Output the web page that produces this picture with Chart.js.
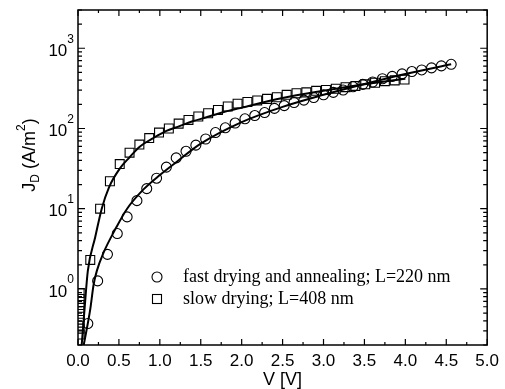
<!DOCTYPE html>
<html>
<head>
<meta charset="utf-8">
<script src="https://cdn.jsdelivr.net/npm/chart.js@4.4.1/dist/chart.umd.min.js"></script>
<style>
  html, body { margin: 0; padding: 0; background: #fff; }
  canvas { display: block; }
</style>
</head>
<body>
<canvas id="grafica" width="505" height="389"></canvas>
<script>
// fast drying and annealing; L=220 nm  (circles)
const fastV = [0.12, 0.24, 0.36, 0.48, 0.60, 0.72, 0.84, 0.96, 1.08, 1.20, 1.32, 1.44, 1.56, 1.68, 1.80, 1.92, 2.04, 2.16, 2.28, 2.40,
  2.52, 2.64, 2.76, 2.88, 3.00, 3.12, 3.24, 3.36, 3.48, 3.60, 3.72, 3.84, 3.96, 4.08, 4.20, 4.32, 4.44, 4.56];
const fastJ = [0.37, 1.26, 2.7, 4.9, 7.9, 12.6, 17.8, 24, 33, 43, 52, 62, 74, 89, 102, 117, 132, 145, 158, 178,
  193, 211, 226, 243, 263, 282, 302, 331, 355, 380, 417, 447, 479, 513, 537, 569, 603, 631];

// slow drying; L=408 nm  (squares)
const slowV = [0.02, 0.02, 0.02, 0.02, 0.02, 0.02, 0.02, 0.02,
  0.15, 0.27, 0.39, 0.51, 0.63, 0.75, 0.87, 0.99, 1.11, 1.23, 1.35, 1.47, 1.59, 1.71, 1.83, 1.95, 2.07, 2.19, 2.31, 2.43,
  2.55, 2.67, 2.79, 2.91, 3.03, 3.15, 3.27, 3.39, 3.51, 3.63, 3.75, 3.87, 3.99];
const slowJ = [0.27, 0.32, 0.38, 0.45, 0.53, 0.63, 0.75, 0.89,
  2.3, 10, 22, 36, 50, 63, 76, 89, 100, 115, 128, 141, 155, 170, 188, 204, 214, 224, 234, 245,
  263, 275, 282, 295, 302, 313, 327, 339, 355, 372, 389, 398, 407];

// fitted curves (solid lines)
const fastFitV = [0.07, 0.15, 0.19, 0.23, 0.31, 0.47, 0.6, 0.8, 1.0, 1.2, 1.5, 2.0, 2.5, 3.0, 3.5, 4.0, 4.56];
const fastFitJ = [0.2, 0.56, 1.12, 1.68, 2.8, 5.9, 10, 17.4, 26.3, 38, 64.6, 120, 186, 263, 359, 479, 631];
const slowFitV = [0.045, 0.08, 0.12, 0.21, 0.29, 0.38, 0.51, 0.63, 0.75, 0.92, 1.08, 1.24, 1.40, 1.57, 1.73, 2.0, 2.5, 3.0, 3.5, 4.0];
const slowFitJ = [0.2, 0.56, 1.68, 4.4, 10, 18.6, 31.6, 43.7, 58.9, 75.9, 93.3, 107, 123, 138, 155, 182, 240, 295, 355, 417];

// axis labels
const xTicks = [0, 0.5, 1.0, 1.5, 2.0, 2.5, 3.0, 3.5, 4.0, 4.5, 5.0];
const yDecades = [0, 1, 2, 3];
const legendLabels = ['fast drying and annealing; L=220 nm', 'slow drying; L=408 nm'];

const sans = '"Liberation Sans", Arial, sans-serif';
const serif = '"Liberation Serif", "Times New Roman", serif';

function puntos(xs, ys) {
    let arr = [];
    for (let i = 0; i < xs.length; i++) {
        arr.push({ x: xs[i], y: ys[i] });
    }
    return arr;
}

// marco, marcas hacia dentro, etiquetas y leyenda
const decoracion = {
    id: 'decoracion',
    afterDraw(chart) {
        const { ctx, chartArea: a, scales: { x, y } } = chart;
        ctx.save();
        ctx.strokeStyle = '#000';
        ctx.fillStyle = '#000';

        // marco
        ctx.lineWidth = 1.5;
        ctx.strokeRect(a.left, a.top, a.right - a.left, a.bottom - a.top);

        // marcas eje x
        ctx.lineWidth = 1.2;
        for (let i = 0; i <= 20; i++) {
            const v = i * 0.25;
            const px = x.getPixelForValue(v);
            const len = i % 2 === 0 ? 6 : 3;
            ctx.beginPath();
            ctx.moveTo(px, a.bottom); ctx.lineTo(px, a.bottom - len);
            ctx.moveTo(px, a.top); ctx.lineTo(px, a.top + len);
            ctx.stroke();
        }

        // marcas eje y (log)
        for (let d = -1; d <= 3; d++) {
            for (let m = 1; m <= 9; m++) {
                const v = m * Math.pow(10, d);
                if (v < y.min - 1e-9 || v > y.max + 1e-9) continue;
                const py = y.getPixelForValue(v);
                const len = m === 1 ? 7 : 4;
                ctx.beginPath();
                ctx.moveTo(a.left, py); ctx.lineTo(a.left + len, py);
                ctx.moveTo(a.right, py); ctx.lineTo(a.right - len, py);
                ctx.stroke();
            }
        }

        // etiquetas eje y: 10^n
        ctx.textBaseline = 'middle';
        yDecades.forEach(d => {
            const py = y.getPixelForValue(Math.pow(10, d));
            ctx.font = '12px ' + sans;
            const wSup = ctx.measureText(String(d)).width;
            const xr = a.left - 4;
            ctx.textAlign = 'right';
            ctx.fillText(String(d), xr, py - 9);
            ctx.font = '17px ' + sans;
            ctx.fillText('10', xr - wSup, py + 3);
        });

        // titulo eje x
        ctx.font = '18px ' + sans;
        ctx.textAlign = 'center';
        ctx.fillText('V [V]', (a.left + a.right) / 2, 380);

        // titulo eje y: J_D (A/m^2)
        ctx.save();
        ctx.translate(30, 155);
        ctx.rotate(-Math.PI / 2);
        const partes = [
            { t: 'J', f: 18, dy: 0 },
            { t: 'D', f: 12, dy: 6 },
            { t: ' (A/m', f: 18, dy: 0 },
            { t: '2', f: 12, dy: -8 },
            { t: ')', f: 18, dy: 0 }
        ];
        let total = 0;
        partes.forEach(p => { ctx.font = p.f + 'px ' + sans; p.w = ctx.measureText(p.t).width; total += p.w; });
        let cx = -total / 2;
        ctx.textAlign = 'left';
        partes.forEach(p => {
            ctx.font = p.f + 'px ' + sans;
            ctx.fillText(p.t, cx, p.dy);
            cx += p.w;
        });
        ctx.restore();

        // leyenda
        ctx.lineWidth = 1.1;
        ctx.beginPath();
        ctx.arc(157, 277, 5, 0, Math.PI * 2);
        ctx.stroke();
        ctx.strokeRect(152.5, 294.5, 9, 9);
        ctx.font = '18px ' + serif;
        ctx.textAlign = 'left';
        ctx.fillText(legendLabels[0], 183, 277);
        ctx.fillText(legendLabels[1], 183, 299);

        ctx.restore();
    }
};

window.onload = function () {
    const ctx = document.getElementById('grafica');

    new Chart(ctx, {
        type: 'scatter',
        data: {
            datasets: [
                {
                    label: legendLabels[0],
                    data: puntos(fastV, fastJ),
                    pointStyle: 'circle',
                    pointRadius: 5,
                    borderColor: '#000',
                    backgroundColor: 'rgba(0,0,0,0)',
                    borderWidth: 1.1,
                    showLine: false
                },
                {
                    label: legendLabels[1],
                    data: puntos(slowV, slowJ),
                    pointStyle: 'rect',
                    pointRadius: 6.3,
                    borderColor: '#000',
                    backgroundColor: 'rgba(0,0,0,0)',
                    borderWidth: 1.1,
                    showLine: false
                },
                {
                    label: 'fit fast',
                    data: puntos(fastFitV, fastFitJ),
                    showLine: true,
                    pointRadius: 0,
                    borderColor: '#000',
                    borderWidth: 2,
                    cubicInterpolationMode: 'monotone'
                },
                {
                    label: 'fit slow',
                    data: puntos(slowFitV, slowFitJ),
                    showLine: true,
                    pointRadius: 0,
                    borderColor: '#000',
                    borderWidth: 2,
                    cubicInterpolationMode: 'monotone'
                }
            ]
        },
        options: {
            responsive: false,
            animation: false,
            layout: { padding: { left: 0, right: 16, top: 10, bottom: 0 } },
            plugins: {
                legend: { display: false },
                tooltip: { enabled: false }
            },
            scales: {
                x: {
                    type: 'linear',
                    min: 0,
                    max: 5,
                    afterFit: s => { s.height = 44; },
                    afterBuildTicks: s => { s.ticks = xTicks.map(v => ({ value: v })); },
                    grid: { display: false, drawTicks: false },
                    border: { display: false },
                    ticks: {
                        color: '#000',
                        font: { family: sans, size: 17 },
                        padding: 6,
                        maxRotation: 0,
                        autoSkip: false,
                        callback: v => Number(v).toFixed(1)
                    }
                },
                y: {
                    type: 'logarithmic',
                    min: 0.2,
                    max: 3000,
                    afterFit: s => { s.width = 78; },
                    grid: { display: false, drawTicks: false },
                    border: { display: false },
                    ticks: { display: false }
                }
            }
        },
        plugins: [decoracion]
    });
};
</script>
</body>
</html>
